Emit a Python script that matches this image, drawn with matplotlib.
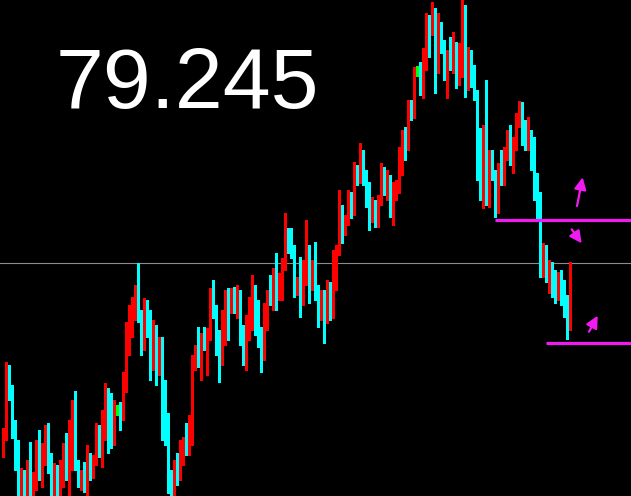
import matplotlib.pyplot as plt
import numpy as np

# USDJPY-style candles, oldest -> newest
opens = [
    79.058, 79.073, 79.138, 79.113, 79.078, 79.053, 79.023, 79.033, 79.018, 79.043,
    79.023, 79.030, 79.058, 79.038, 79.053, 79.073, 79.048, 79.023, 79.033, 79.020,
    79.043, 79.058, 79.038, 79.078, 79.103, 79.043, 79.028, 79.036, 79.023, 79.053,
    79.038, 79.048, 79.073, 79.058, 79.088, 79.113, 79.083, 79.068, 79.098, 79.098,
    79.090, 79.123, 79.168, 79.190, 79.208, 79.218, 79.188, 79.168, 79.203, 79.190,
    79.163, 79.178, 79.148, 79.168, 79.118, 79.078, 79.028, 79.018, 79.038, 79.030,
    79.053, 79.063, 79.058, 79.088, 79.143, 79.158, 79.153, 79.168, 79.163, 79.173,
    79.208, 79.198, 79.163, 79.148, 79.193, 79.208, 79.198, 79.213, 79.203, 79.213,
    79.173, 79.158, 79.188, 79.208, 79.218, 79.203, 79.168, 79.153, 79.198, 79.213,
    79.208, 79.228, 79.218, 79.226, 79.243, 79.273, 79.263, 79.258, 79.218, 79.228,
    79.208, 79.233, 79.258, 79.223, 79.243, 79.218, 79.203, 79.213, 79.193, 79.213,
    79.203, 79.243, 79.258, 79.293, 79.278, 79.288, 79.308, 79.298, 79.338, 79.328,
    79.353, 79.333, 79.308, 79.293, 79.303, 79.288, 79.308, 79.338, 79.323, 79.330,
    79.303, 79.318, 79.323, 79.343, 79.368, 79.360, 79.398, 79.393, 79.436, 79.436,
    79.418, 79.443, 79.488, 79.478, 79.496, 79.438, 79.468, 79.458, 79.433, 79.453,
    79.443, 79.463, 79.428, 79.463, 79.498, 79.428, 79.453, 79.433, 79.413, 79.378,
    79.318, 79.378, 79.308, 79.353, 79.333, 79.298, 79.338, 79.328, 79.358, 79.375,
    79.348, 79.368, 79.388, 79.398, 79.373, 79.363, 79.373, 79.343, 79.318, 79.293,
    79.238, 79.253, 79.238, 79.243, 79.223, 79.218, 79.228, 79.208, 79.198, 79.198,
]
closes = [
    79.073, 79.138, 79.113, 79.078, 79.053, 79.023, 79.033, 79.018, 79.043, 79.023,
    79.030, 79.058, 79.038, 79.053, 79.073, 79.048, 79.023, 79.033, 79.020, 79.043,
    79.058, 79.038, 79.078, 79.103, 79.043, 79.028, 79.036, 79.023, 79.053, 79.038,
    79.048, 79.073, 79.058, 79.088, 79.113, 79.083, 79.068, 79.098, 79.098, 79.090,
    79.123, 79.168, 79.190, 79.208, 79.218, 79.188, 79.168, 79.203, 79.190, 79.163,
    79.178, 79.148, 79.168, 79.118, 79.078, 79.028, 79.018, 79.038, 79.030, 79.053,
    79.063, 79.058, 79.088, 79.143, 79.158, 79.153, 79.168, 79.163, 79.173, 79.208,
    79.198, 79.163, 79.148, 79.193, 79.208, 79.198, 79.213, 79.203, 79.213, 79.173,
    79.158, 79.188, 79.208, 79.218, 79.203, 79.168, 79.153, 79.198, 79.213, 79.208,
    79.228, 79.218, 79.226, 79.243, 79.273, 79.263, 79.258, 79.218, 79.228, 79.208,
    79.233, 79.258, 79.223, 79.243, 79.218, 79.203, 79.213, 79.193, 79.213, 79.203,
    79.243, 79.258, 79.293, 79.278, 79.288, 79.308, 79.298, 79.338, 79.328, 79.353,
    79.333, 79.308, 79.293, 79.303, 79.288, 79.308, 79.338, 79.323, 79.330, 79.303,
    79.318, 79.323, 79.343, 79.368, 79.360, 79.398, 79.393, 79.433, 79.436, 79.418,
    79.443, 79.488, 79.478, 79.496, 79.438, 79.468, 79.458, 79.433, 79.453, 79.443,
    79.463, 79.428, 79.463, 79.498, 79.428, 79.453, 79.433, 79.413, 79.378, 79.318,
    79.378, 79.308, 79.353, 79.333, 79.298, 79.338, 79.328, 79.358, 79.375, 79.348,
    79.368, 79.388, 79.398, 79.373, 79.363, 79.373, 79.343, 79.318, 79.293, 79.238,
    79.253, 79.238, 79.243, 79.223, 79.218, 79.228, 79.208, 79.198, 79.193, 79.245,
]
highs = [
    79.080, 79.146, 79.143, 79.123, 79.088, 79.068, 79.040, 79.038, 79.048, 79.066,
    79.036, 79.068, 79.078, 79.065, 79.083, 79.085, 79.055, 79.045, 79.043, 79.048,
    79.065, 79.075, 79.088, 79.108, 79.117, 79.048, 79.038, 79.046, 79.063, 79.055,
    79.053, 79.085, 79.083, 79.098, 79.125, 79.120, 79.115, 79.108, 79.103, 79.106,
    79.136, 79.186, 79.203, 79.211, 79.223, 79.245, 79.198, 79.210, 79.208, 79.198,
    79.188, 79.183, 79.171, 79.171, 79.128, 79.095, 79.038, 79.048, 79.055, 79.068,
    79.071, 79.085, 79.093, 79.153, 79.163, 79.181, 79.175, 79.181, 79.180, 79.220,
    79.228, 79.203, 79.178, 79.198, 79.218, 79.220, 79.220, 79.221, 79.223, 79.218,
    79.183, 79.193, 79.211, 79.233, 79.223, 79.208, 79.181, 79.205, 79.218, 79.233,
    79.240, 79.255, 79.235, 79.250, 79.295, 79.280, 79.280, 79.263, 79.231, 79.251,
    79.248, 79.288, 79.263, 79.248, 79.266, 79.223, 79.218, 79.218, 79.228, 79.226,
    79.258, 79.263, 79.318, 79.303, 79.293, 79.318, 79.316, 79.346, 79.343, 79.365,
    79.358, 79.338, 79.326, 79.311, 79.308, 79.313, 79.345, 79.341, 79.338, 79.333,
    79.326, 79.328, 79.361, 79.378, 79.381, 79.408, 79.408, 79.441, 79.442, 79.446,
    79.460, 79.495, 79.493, 79.506, 79.500, 79.495, 79.486, 79.468, 79.458, 79.471,
    79.476, 79.466, 79.465, 79.508, 79.503, 79.461, 79.458, 79.443, 79.418, 79.380,
    79.383, 79.428, 79.358, 79.358, 79.338, 79.345, 79.358, 79.361, 79.378, 79.383,
    79.371, 79.395, 79.407, 79.406, 79.388, 79.391, 79.378, 79.371, 79.335, 79.316,
    79.265, 79.263, 79.248, 79.246, 79.238, 79.236, 79.238, 79.228, 79.213, 79.246,
]
lows = [
    79.051, 79.068, 79.108, 79.070, 79.038, 79.012, 79.012, 79.012, 79.012, 79.012,
    79.012, 79.018, 79.028, 79.021, 79.043, 79.035, 79.012, 79.012, 79.012, 79.012,
    79.021, 79.028, 79.012, 79.038, 79.038, 79.021, 79.018, 79.016, 79.012, 79.028,
    79.030, 79.043, 79.051, 79.041, 79.068, 79.055, 79.060, 79.063, 79.093, 79.078,
    79.088, 79.116, 79.153, 79.171, 79.188, 79.186, 79.153, 79.158, 79.171, 79.128,
    79.138, 79.123, 79.133, 79.068, 79.063, 79.015, 79.012, 79.012, 79.023, 79.028,
    79.043, 79.053, 79.053, 79.063, 79.138, 79.141, 79.128, 79.158, 79.133, 79.168,
    79.190, 79.153, 79.126, 79.143, 79.163, 79.168, 79.195, 79.195, 79.190, 79.163,
    79.143, 79.138, 79.168, 79.178, 79.173, 79.161, 79.136, 79.148, 79.178, 79.203,
    79.198, 79.198, 79.208, 79.208, 79.238, 79.255, 79.250, 79.211, 79.213, 79.191,
    79.203, 79.223, 79.205, 79.218, 79.208, 79.181, 79.188, 79.165, 79.185, 79.188,
    79.190, 79.218, 79.253, 79.265, 79.273, 79.283, 79.290, 79.293, 79.323, 79.325,
    79.323, 79.301, 79.278, 79.286, 79.281, 79.281, 79.303, 79.313, 79.308, 79.291,
    79.283, 79.308, 79.315, 79.333, 79.348, 79.358, 79.388, 79.390, 79.432, 79.413,
    79.410, 79.438, 79.451, 79.473, 79.415, 79.435, 79.455, 79.428, 79.410, 79.438,
    79.435, 79.420, 79.423, 79.431, 79.411, 79.418, 79.421, 79.408, 79.328, 79.308,
    79.300, 79.303, 79.301, 79.328, 79.291, 79.295, 79.323, 79.323, 79.348, 79.343,
    79.335, 79.358, 79.381, 79.363, 79.358, 79.358, 79.338, 79.308, 79.288, 79.231,
    79.231, 79.226, 79.215, 79.211, 79.205, 79.208, 79.203, 79.191, 79.169, 79.178,
]

bid_price = 79.245
level_upper = 79.288
level_lower = 79.165
level_upper_start = 164
level_lower_start = 181

BULL = "#ff0000"
BEAR = "#00ffff"
DOJI = "#00ff00"
MAGENTA = "#f21af2"

o = np.array(opens)
c = np.array(closes)
h = np.array(highs)
l = np.array(lows)
idx = np.arange(len(o))
cols = np.where(c > o, BULL, np.where(c < o, BEAR, DOJI))

fig = plt.figure(figsize=(6.31, 4.96), dpi=100, facecolor="black")
ax = fig.add_axes([0, 0, 1, 1])
ax.set_facecolor("black")

ax.axhline(bid_price, color="#8c8c8c", lw=0.8, zorder=1)

ax.vlines(idx, l, h, colors=cols, lw=0.9, antialiased=False, zorder=2)
body = np.maximum(np.abs(c - o), 0.0008)
ax.bar(idx, body, bottom=np.minimum(o, c), width=0.8, color=cols,
       linewidth=0, antialiased=False, zorder=3)

ax.hlines(level_upper, level_upper_start, 215, color=MAGENTA, lw=2.3, zorder=4)
ax.hlines(level_lower, level_lower_start, 215, color=MAGENTA, lw=2.3, zorder=4)

ax.set_xlim(-1, 209.33)
ax.set_ylim(79.012, 79.508)
ax.axis("off")

# hand-drawn arrows (figure pixels)
arrows = [((577, 290), (582.7, 318.7)),
          ((571.7, 266.7), (581.7, 252.7)),
          ((589, 164.3), (597.7, 180.3))]
for tail, tip in arrows:
    ax.annotate("", xy=tip, xytext=tail, xycoords="figure pixels",
                textcoords="figure pixels",
                arrowprops=dict(arrowstyle="-|>,head_length=0.9,head_width=0.45",
                                color=MAGENTA, lw=1.6, mutation_scale=8,
                                shrinkA=0, shrinkB=0))

fig.text(56 / 631, 388 / 496, "79.245", color="white", fontsize=62,
         family="Liberation Sans", ha="left", va="baseline")

fig.savefig("out.png", dpi=100, facecolor="black")
